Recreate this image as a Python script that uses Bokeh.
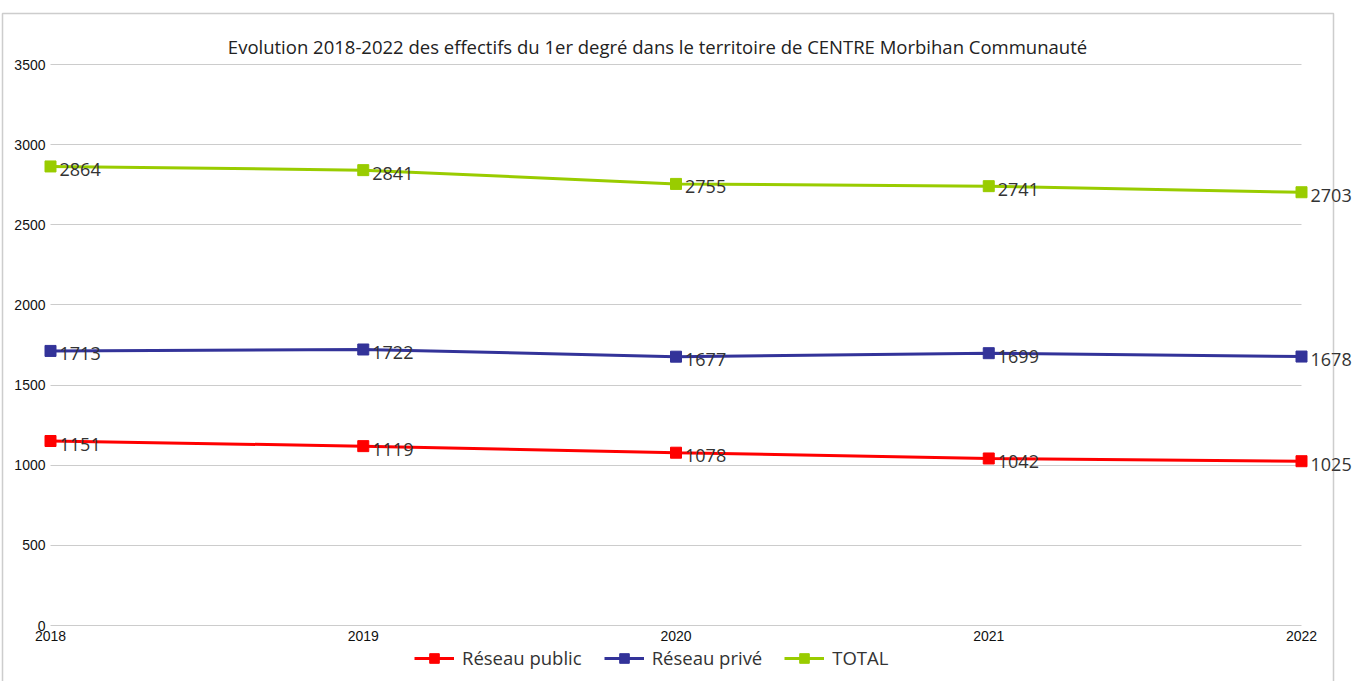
from bokeh.plotting import figure
from bokeh.models import (Range1d, FixedTicker, ColumnDataSource, LabelSet, Label,
                          Legend, LegendItem, BoxAnnotation)
from bokeh.core.properties import value
from bokeh.embed import file_html
from bokeh.resources import INLINE

years = [2018, 2019, 2020, 2021, 2022]
public = [1151, 1119, 1078, 1042, 1025]
prive = [1713, 1722, 1677, 1699, 1678]
total = [2864, 2841, 2755, 2741, 2703]
yticks = [0, 500, 1000, 1500, 2000, 2500, 3000, 3500]
series_names = ["Réseau public", "Réseau privé", "TOTAL"]
colors = ["#FF0000", "#333399", "#99CC00"]
title_text = "Evolution 2018-2022 des effectifs du 1er degré dans le territoire de CENTRE Morbihan Communauté"

TXT_FONT = "Open Sans"
TICK_FONT = "Liberation Sans"

W, H = 1356, 681
# pixel layout of the plotting region (first/last year, 0 and top tick)
PX_X0, PX_X1 = 50, 1301
PX_Y0, PX_Y1 = 625, 64
sx = (PX_X1 - PX_X0) / (years[-1] - years[0])
sy = (PX_Y0 - PX_Y1) / (yticks[-1] - yticks[0])


def px2x(px):
    return years[0] + (px - PX_X0) / sx


def px2y(py):
    return yticks[0] + (PX_Y0 - py) / sy


p = figure(width=W, height=H, output_backend="svg", toolbar_location=None,
           x_range=Range1d(px2x(0), px2x(W)), y_range=Range1d(px2y(H), px2y(0)),
           min_border_left=0, min_border_right=0, min_border_top=0, min_border_bottom=0)
p.outline_line_color = None
p.background_fill_color = "white"
p.border_fill_color = "white"

# axes drawn inside the frame
p.yaxis.ticker = FixedTicker(ticks=yticks)
p.xaxis.ticker = FixedTicker(ticks=years)
p.xaxis.fixed_location = yticks[0]
p.yaxis.fixed_location = years[0]
for ax in (p.xaxis[0], p.yaxis[0]):
    ax.axis_line_color = None
    ax.major_tick_line_color = None
    ax.minor_tick_line_color = None
    ax.major_tick_in = 0
    ax.major_tick_out = 0
    ax.minor_tick_in = 0
    ax.minor_tick_out = 0
    ax.major_label_text_font = TICK_FONT
    ax.major_label_text_font_size = "14px"
    ax.major_label_text_color = "#111111"
p.yaxis.major_label_standoff = 5
p.xaxis.major_label_standoff = 5

p.xgrid.grid_line_color = None
p.ygrid.grid_line_color = "#cccccc"
p.ygrid.grid_line_width = 1
p.ygrid.cross_bounds = (years[0], years[-1])

items = []
for name, vals, col in zip(series_names, [public, prive, total], colors):
    src = ColumnDataSource(dict(x=years, y=vals, t=[str(v) for v in vals]))
    r1 = p.line("x", "y", source=src, line_color=col, line_width=3)
    r2 = p.scatter("x", "y", source=src, marker="square", size=11,
                   fill_color=col, line_color=col)
    lbl = LabelSet(x="x", y="y", text="t", source=src, x_offset=9, y_offset=-3,
                   text_baseline="middle", text_font=value(TXT_FONT),
                   text_font_size=value("18px"), text_color=value("#333333"))
    p.add_layout(lbl)
    items.append(LegendItem(label=name, renderers=[r1, r2]))

legend = Legend(items=items, orientation="horizontal", location=(414, 11),
                label_text_font=TXT_FONT, label_text_font_size="18.5px",
                label_text_color="#333333", glyph_width=40, glyph_height=24,
                label_standoff=8, spacing=22, padding=0, margin=0,
                border_line_color=None, background_fill_alpha=0)
p.add_layout(legend)

title = Label(x=px2x(657), y=px2y(46), text=title_text, text_align="center",
              text_baseline="middle", text_font=TXT_FONT, text_font_size="18.5px",
              text_color="#222222")
p.add_layout(title)

frame_box = BoxAnnotation(left=px2x(2), right=px2x(1333), top=px2y(13), bottom=px2y(H + 20),
                          fill_alpha=0, line_color="#5a5a5a", line_width=1.5,
                          level="overlay")
p.add_layout(frame_box)

open("out.html", "w").write(file_html(p, INLINE))
